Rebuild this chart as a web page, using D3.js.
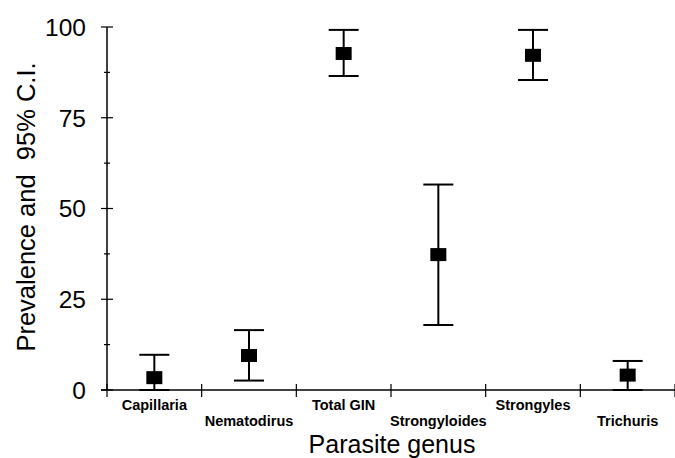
<!DOCTYPE html>
<html>
<head>
<meta charset="utf-8">
<script src="https://cdn.jsdelivr.net/npm/d3@7"></script>
<style>
  body { margin: 0; background: #fff; }
  text { font-family: "Liberation Sans", Arial, sans-serif; fill: #000; }
</style>
</head>
<body>
<div id="chart"></div>
<script>
// Prevalence (%) with 95% confidence limits
var genus = ["Capillaria", "Nematodirus", "Total GIN", "Strongyloides", "Strongyles", "Trichuris"];
var prevalence = [3.4, 9.5, 92.7, 37.3, 92.2, 4.1];
var lowerCI = [0, 2.6, 86.5, 17.9, 85.4, 0];
var upperCI = [9.7, 16.5, 99.2, 56.6, 99.2, 8.0];
var majorTicks = [0, 25, 50, 75, 100];
var minorTicks = [12.5, 37.5, 62.5, 87.5];

var data = genus.map(function (g, i) {
  return { genus: g, p: prevalence[i], lo: lowerCI[i], hi: upperCI[i] };
});

var W = 675, H = 458;
var margin = { top: 27, right: 0, bottom: 68, left: 107 },
  width = W - margin.left - margin.right,
  height = H - margin.top - margin.bottom;

var svg = d3
  .select("#chart")
  .append("svg")
  .attr("width", W)
  .attr("height", H)
  .append("g")
  .attr("transform", "translate(" + margin.left + "," + margin.top + ")");

var x = d3.scaleBand().domain(genus).range([0, width]);
var y = d3.scaleLinear().domain([0, 100]).range([height, 0]);

// y axis line + ticks
svg.append("line")
  .attr("x1", 0).attr("x2", 0)
  .attr("y1", y(100)).attr("y2", y(0))
  .attr("stroke", "#000").attr("stroke-width", 1.5);

svg.selectAll(".ymajor")
  .data(majorTicks)
  .enter()
  .append("line")
  .attr("x1", -6).attr("x2", 6)
  .attr("y1", (d) => y(d)).attr("y2", (d) => y(d))
  .attr("stroke", "#000").attr("stroke-width", 1.2);

svg.selectAll(".yminor")
  .data(minorTicks)
  .enter()
  .append("line")
  .attr("x1", -3).attr("x2", 3)
  .attr("y1", (d) => y(d)).attr("y2", (d) => y(d))
  .attr("stroke", "#000").attr("stroke-width", 1.2);

svg.selectAll(".ylabel")
  .data(majorTicks)
  .enter()
  .append("text")
  .attr("x", -21)
  .attr("y", (d) => y(d))
  .attr("dy", "0.36em")
  .attr("text-anchor", "end")
  .style("font-size", "24.5px")
  .text((d) => d);

// x axis line + band boundary ticks
svg.append("line")
  .attr("x1", -6).attr("x2", width)
  .attr("y1", height).attr("y2", height)
  .attr("stroke", "#000").attr("stroke-width", 1.5);

var bounds = genus.map((g) => x(g)).concat([width]);
svg.selectAll(".xtick")
  .data(bounds)
  .enter()
  .append("line")
  .attr("x1", (d) => d).attr("x2", (d) => d)
  .attr("y1", height - 6).attr("y2", height + 7)
  .attr("stroke", "#000").attr("stroke-width", 1.2);

svg.selectAll(".xlabel")
  .data(genus)
  .enter()
  .append("text")
  .attr("x", (d) => x(d) + x.bandwidth() / 2)
  .attr("y", (d, i) => height + (i % 2 === 0 ? 20 : 36))
  .attr("text-anchor", "middle")
  .style("font-size", "14.5px")
  .style("font-weight", "bold")
  .text((d) => d);

// error bars
var cx = (d) => x(d.genus) + x.bandwidth() / 2;
var eb = svg.selectAll(".eb").data(data).enter().append("g");

eb.append("line")
  .attr("x1", cx).attr("x2", cx)
  .attr("y1", (d) => y(d.hi)).attr("y2", (d) => y(d.lo))
  .attr("stroke", "#000").attr("stroke-width", 2);

eb.append("line")
  .attr("x1", (d) => cx(d) - 15).attr("x2", (d) => cx(d) + 15)
  .attr("y1", (d) => y(d.hi)).attr("y2", (d) => y(d.hi))
  .attr("stroke", "#000").attr("stroke-width", 2);

eb.append("line")
  .attr("x1", (d) => cx(d) - 15).attr("x2", (d) => cx(d) + 15)
  .attr("y1", (d) => y(d.lo)).attr("y2", (d) => y(d.lo))
  .attr("stroke", "#000").attr("stroke-width", 2);

eb.append("rect")
  .attr("x", (d) => cx(d) - 8)
  .attr("y", (d) => y(d.p) - 6.5)
  .attr("width", 16)
  .attr("height", 13)
  .attr("fill", "#000");

// axis titles
svg.append("text")
  .attr("transform", "translate(" + (35 - margin.left) + "," + (207 - margin.top) + ") rotate(-90)")
  .attr("text-anchor", "middle")
  .style("font-size", "25.5px")
  .style("white-space", "pre")
  .attr("xml:space", "preserve")
  .text("Prevalence and  95% C.I.");

svg.append("text")
  .attr("x", 392 - margin.left)
  .attr("y", 453 - margin.top)
  .attr("text-anchor", "middle")
  .style("font-size", "25px")
  .text("Parasite genus");
</script>
</body>
</html>
